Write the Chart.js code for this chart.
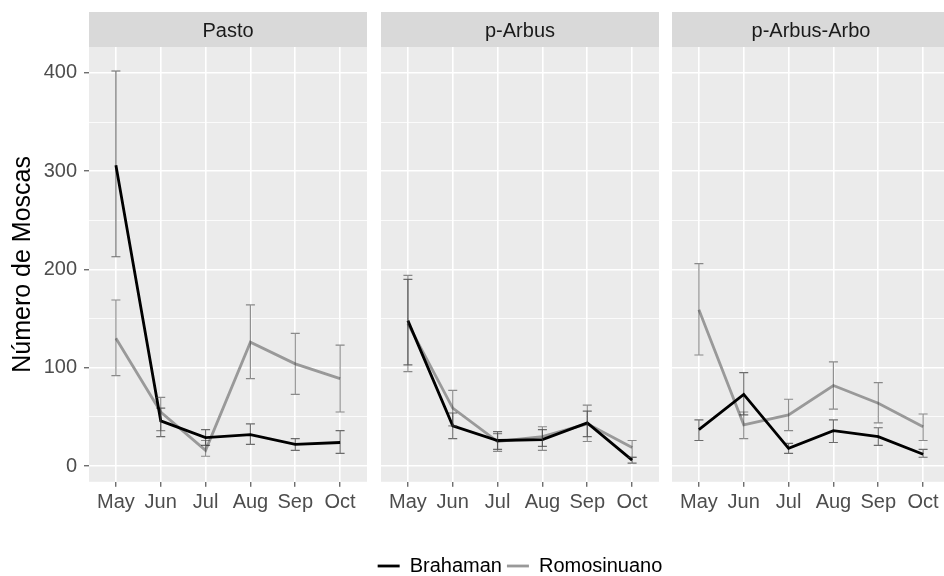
<!DOCTYPE html>
<html>
<head>
<meta charset="utf-8">
<script src="https://cdn.jsdelivr.net/npm/chart.js@4/dist/chart.umd.min.js"></script>
<style>
  html, body { margin: 0; padding: 0; background: #fff; overflow: hidden; width: 944px; height: 576px; }
  .panel { position: absolute; top: 0; height: 586px; }
</style>
</head>
<body>
<div class="panel" style="left:0;width:367px"><canvas id="c-pasto"></canvas></div>
<div class="panel" style="left:672px;width:278px"><canvas id="c-arbo"></canvas></div>
<div class="panel" style="left:331px;width:378px"><canvas id="c-arbus"></canvas></div>
<script>
(function () {
  'use strict';

  var months = ['May', 'Jun', 'Jul', 'Aug', 'Sep', 'Oct'];
  var panelTitles = ['Pasto', 'p-Arbus', 'p-Arbus-Arbo'];
  var seriesNames = ['Brahaman', 'Romosinuano'];
  var yTickLabels = [0, 100, 200, 300, 400];

  // Pasto
  var pastoBrahaman = [306, 46, 29, 32, 22, 24];
  var pastoBrahamanLo = [213, 30, 21, 22, 16, 13];
  var pastoBrahamanHi = [402, 59, 37, 43, 28, 36];
  var pastoRomo = [130, 55, 16, 126, 104, 89];
  var pastoRomoLo = [92, 36, 10, 89, 73, 55];
  var pastoRomoHi = [169, 70, 26, 164, 135, 123];

  // p-Arbus
  var arbusBrahaman = [148, 41, 26, 27, 44, 6];
  var arbusBrahamanLo = [103, 28, 17, 20, 30, 3];
  var arbusBrahamanHi = [190, 54, 35, 37, 56, 9];
  var arbusRomo = [145, 59, 25, 30, 43, 19];
  var arbusRomoLo = [96, 41, 15, 16, 25, 9];
  var arbusRomoHi = [194, 77, 33, 40, 62, 26];

  // p-Arbus-Arbo
  var arboBrahaman = [37, 73, 18, 36, 30, 12];
  var arboBrahamanLo = [26, 52, 13, 24, 21, 9];
  var arboBrahamanHi = [47, 95, 23, 47, 39, 17];
  var arboRomo = [159, 42, 52, 82, 64, 40];
  var arboRomoLo = [113, 28, 36, 58, 44, 26];
  var arboRomoHi = [206, 55, 68, 106, 85, 53];

  var FONT = "'Liberation Sans', Arial, sans-serif";
  var AREA_BOTTOM = 481.8;
  var CANVAS_H = 586;

  // grey panel + facet strip behind the title
  var panelBg = {
    id: 'panelBg',
    beforeDraw: function (chart) {
      var a = chart.chartArea, c = chart.ctx;
      c.save();
      c.fillStyle = '#EBEBEB';
      c.fillRect(a.left, a.top, a.right - a.left, a.bottom - a.top);
      c.fillStyle = '#D9D9D9';
      c.fillRect(a.left, 12, a.right - a.left, a.top - 12);
      c.restore();
    }
  };

  // error bars from errLo / errHi on each dataset
  var errorBars = {
    id: 'errorBars',
    afterDatasetsDraw: function (chart) {
      var c = chart.ctx, xs = chart.scales.x, ys = chart.scales.y;
      chart.data.datasets.forEach(function (ds) {
        if (!ds.errLo) return;
        c.save();
        c.strokeStyle = ds.errColor;
        c.lineWidth = 1.2;
        ds.errLo.forEach(function (lo, i) {
          var x = xs.getPixelForValue(i);
          var y1 = ys.getPixelForValue(lo);
          var y2 = ys.getPixelForValue(ds.errHi[i]);
          c.beginPath();
          c.moveTo(x, y1); c.lineTo(x, y2);
          c.moveTo(x - 4.5, y1); c.lineTo(x + 4.5, y1);
          c.moveTo(x - 4.5, y2); c.lineTo(x + 4.5, y2);
          c.stroke();
        });
        c.restore();
      });
    }
  };

  function points(vals) {
    return vals.map(function (v, i) { return { x: i, y: v }; });
  }

  function makePanel(id, title, b, bLo, bHi, r, rLo, rHi, first, withLegend) {
    var scales = {
      x: {
        type: 'linear',
        min: -0.6,
        max: 5.6,
        border: { display: false },
        grid: { color: '#FFFFFF', lineWidth: 1.6, tickColor: '#333333', tickLength: 5, tickWidth: 1 },
        ticks: {
          stepSize: 1, includeBounds: false, autoSkip: false, maxRotation: 0, padding: 4,
          color: '#4D4D4D', font: { family: FONT, size: 20 },
          callback: function (v) { return Number.isInteger(v) ? months[v] : ''; }
        },
        afterFit: function (s) {
          var lg = s.chart.legend && s.chart.options.plugins.legend.display ? s.chart.legend.height : 0;
          s.height = CANVAS_H - AREA_BOTTOM - lg;
        }
      },
      y: {
        position: 'left',
        min: -16,
        max: 426.4,
        border: { display: false },
        grid: {
          color: '#FFFFFF',
          drawTicks: first,
          tickLength: 5,
          tickWidth: 1,
          lineWidth: function (ctx) { return ctx.tick && yTickLabels.indexOf(ctx.tick.value) !== -1 ? 1.6 : 0.8; },
          tickColor: function (ctx) { return ctx.tick && yTickLabels.indexOf(ctx.tick.value) !== -1 ? '#333333' : 'rgba(0,0,0,0)'; }
        },
        ticks: {
          display: first,
          stepSize: 50,
          includeBounds: false,
          padding: 7,
          color: '#4D4D4D',
          font: { family: FONT, size: 20 },
          callback: function (v) { return yTickLabels.indexOf(v) !== -1 ? String(v) : ''; }
        },
        title: {
          display: first,
          text: 'Número de Moscas',
          color: '#000000',
          font: { family: FONT, size: 25 },
          padding: { top: 8, bottom: 0 }
        },
        afterFit: function (s) { s.width = first ? 89 : (withLegend ? 50 : 0); }
      }
    };
    if (withLegend) {
      // invisible right axis keeps the legend centred under the middle panel
      scales.yR = {
        position: 'right', display: true,
        border: { display: false }, grid: { display: false }, ticks: { display: false },
        afterFit: function (s) { s.width = 50; }
      };
    }

    return new Chart(document.getElementById(id), {
      type: 'line',
      data: {
        datasets: [
          {
            label: seriesNames[0], data: points(b), errLo: bLo, errHi: bHi,
            borderColor: '#000000', backgroundColor: '#000000', borderWidth: 2.8,
            errColor: 'rgba(0,0,0,0.55)', pointRadius: 0, tension: 0, order: 1
          },
          {
            label: seriesNames[1], data: points(r), errLo: rLo, errHi: rHi,
            borderColor: '#999999', backgroundColor: '#999999', borderWidth: 2.8,
            errColor: 'rgba(70,70,70,0.6)', pointRadius: 0, tension: 0, order: 2
          }
        ]
      },
      options: {
        responsive: true,
        maintainAspectRatio: false,
        animation: false,
        layout: { padding: { top: 12, left: 0, right: 0, bottom: 0 } },
        scales: scales,
        plugins: {
          title: {
            display: true, text: title, fullSize: false,
            color: '#1A1A1A', font: { family: FONT, size: 20, weight: 'normal' },
            padding: { top: 7, bottom: 4 }
          },
          legend: {
            display: withLegend,
            position: 'bottom',
            labels: {
              usePointStyle: true, pointStyle: 'line', pointStyleWidth: 22,
              padding: 5, color: '#000000', font: { family: FONT, size: 20 }
            }
          },
          tooltip: { enabled: false }
        }
      },
      plugins: [panelBg, errorBars]
    });
  }

  makePanel('c-pasto', panelTitles[0], pastoBrahaman, pastoBrahamanLo, pastoBrahamanHi,
    pastoRomo, pastoRomoLo, pastoRomoHi, true, false);
  makePanel('c-arbus', panelTitles[1], arbusBrahaman, arbusBrahamanLo, arbusBrahamanHi,
    arbusRomo, arbusRomoLo, arbusRomoHi, false, true);
  makePanel('c-arbo', panelTitles[2], arboBrahaman, arboBrahamanLo, arboBrahamanHi,
    arboRomo, arboRomoLo, arboRomoHi, false, false);
})();
</script>
</body>
</html>
